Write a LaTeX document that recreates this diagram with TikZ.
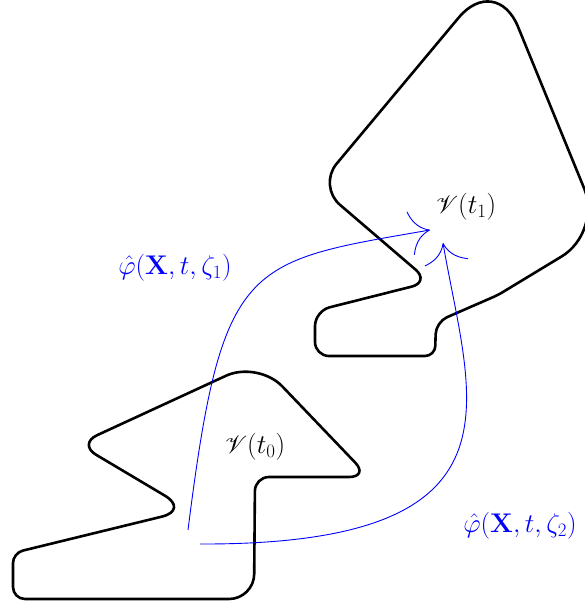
\documentclass[tikz,border=0pt]{standalone}
\usepackage{fix-cm}
\usepackage{amsmath, amssymb}
\usepackage{mathrsfs}
\usepackage{xcolor}
\usetikzlibrary{arrows.meta}
\tikzset{
  region/.style={line width=2.6pt, line join=round},
  flowarrow/.style={blue, line width=0.9pt, -{To[length=20pt,width=44pt]}},
  biglabel/.style={font=\fontsize{27}{32}\selectfont, inner sep=0pt}
}

\begin{document}
\begin{tikzpicture}[x=1pt,y=-1pt]
  \useasboundingbox (0,0) rectangle (585,607);
  % region at t_1
  \draw[region] (375,356)
    [rounded corners=10pt] -- (435,356) [rounded corners=12pt] -- (436,322)
    [rounded corners=5pt] -- (498,295) [rounded corners=47pt] -- (602,232)
    [rounded corners=58pt] -- (496,-27) [rounded corners=29pt] -- (318,186)
    [rounded corners=19pt] -- (430,282) [rounded corners=15pt] -- (315,311)
    [rounded corners=14pt] -- (315,356) -- cycle;
  % region at t_0
  \draw[region] (130,599)
    [rounded corners=25pt] -- (254,599) [rounded corners=14pt] -- (255,477)
    [rounded corners=20pt] -- (369,477) [rounded corners=35pt] -- (258,361)
    [rounded corners=21pt] -- (78,444) [rounded corners=28pt] -- (189,510)
    [rounded corners=10pt] -- (13,553) [rounded corners=12pt] -- (13,599)
    -- cycle;
  \node[biglabel] (vone) at (466,207) {$\mathscr{V}(t_1)$};
  \node[biglabel] (vzero) at (255,447) {$\mathscr{V}(t_0)$};
  % flows
  \coordinate (startone) at (188,530);
  \coordinate (endone) at (430,230);
  \coordinate (starttwo) at (200,544);
  \coordinate (endtwo) at (443,243);
  \draw[flowarrow] (startone) .. controls (222,260) and (245,262) .. (endone);
  \draw[flowarrow] (starttwo) .. controls (535,545) and (470,400) .. (endtwo);
  \node[biglabel, blue] (phione) at (175,268) {$\hat{\varphi}(\mathbf{X},t,\zeta_1)$};
  \node[biglabel, blue] (phitwo) at (520,526) {$\hat{\varphi}(\mathbf{X},t,\zeta_2)$};
\end{tikzpicture}
\end{document}
